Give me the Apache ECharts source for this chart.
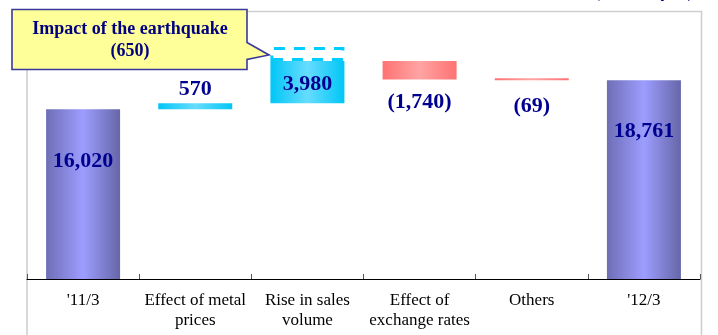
<!DOCTYPE html>
<html>
<head>
<meta charset="utf-8">
<script src="https://cdn.jsdelivr.net/npm/echarts@6/dist/echarts.min.js"></script>
<style>
  html, body { margin: 0; padding: 0; background: #ffffff; }
  #chart { width: 718px; height: 335px; }
</style>
</head>
<body>
<div id="chart"></div>
<script>
// Operating bridge, '11/3 -> '12/3 (Million yen)
const categories = ["'11/3", "Effect of metal\nprices", "Rise in sales\nvolume", "Effect of\nexchange rates", "Others", "'12/3"];
const startValue = 16020;
const changes = [570, 3980, -1740, -69];
const endValue = 18761;
const earthquakeImpact = 650;
const valueLabels = ["16,020", "570", "3,980", "(1,740)", "(69)", "18,761"];

// Waterfall: invisible offsets + visible step heights
const steps = [startValue, ...changes, endValue];
const offsets = [];
const heights = [];
let running = 0;
steps.forEach((v, i) => {
  if (i === 0 || i === steps.length - 1) {
    offsets.push(0);
    heights.push(Math.abs(v));
    running = v;
  } else {
    const next = running + v;
    offsets.push(Math.min(running, next));
    heights.push(Math.abs(v));
    running = next;
  }
});

const FONT = "'Liberation Serif', 'Times New Roman', serif";
const NAVY = '#000090';

function hGrad(edgeL, mid, edgeR) {
  return new echarts.graphic.LinearGradient(0, 0, 1, 0, [
    { offset: 0, color: edgeL },
    { offset: 0.5, color: mid },
    { offset: 1, color: edgeR }
  ]);
}
const blueFill = hGrad('#6e6eb6', '#9d9dff', '#6666a8');
const cyanFill = hGrad('#00c6f6', '#66dcff', '#00c6f6');
const pinkFill = hGrad('#ff7272', '#ffa4a4', '#ff7272');
const fills = [blueFill, cyanFill, cyanFill, pinkFill, pinkFill, blueFill];

// per-bar label placement
const labelPos = [
  { position: 'insideTop', distance: 41 },
  { position: 'top', distance: 3 },
  { position: 'insideTop', distance: 12 },
  { position: 'bottom', distance: 12 },
  { position: 'bottom', distance: 15 },
  { position: 'insideTop', distance: 40 }
];

const visibleData = heights.map((h, i) => ({
  value: h,
  itemStyle: { color: fills[i] },
  label: {
    show: true,
    position: labelPos[i].position,
    distance: labelPos[i].distance,
    formatter: valueLabels[i],
    fontFamily: FONT,
    fontWeight: 'bold',
    fontSize: 22,
    color: NAVY
  }
}));

const quakeData = categories.map((c, i) => (i === 2 ? earthquakeImpact : '-'));

const chart = echarts.init(document.getElementById('chart'), null, { renderer: 'canvas' });

chart.setOption({
  animation: false,
  backgroundColor: '#ffffff',
  grid: { left: 27, right: 18, top: 11, bottom: 56, containLabel: false },
  xAxis: {
    type: 'category',
    data: categories,
    boundaryGap: true,
    axisLine: { show: true, lineStyle: { color: '#000000', width: 1.2 } },
    axisTick: { show: true, inside: true, length: 5, lineStyle: { color: '#555555', width: 1 } },
    axisLabel: {
      interval: 0,
      margin: 12,
      fontFamily: FONT,
      fontSize: 17,
      lineHeight: 20,
      color: '#000000'
    },
    splitLine: { show: false }
  },
  yAxis: {
    type: 'value',
    min: 0,
    max: 25300,
    show: false,
    splitLine: { show: false }
  },
  series: [
    {
      name: 'offset',
      type: 'bar',
      stack: 'bridge',
      barWidth: 74,
      silent: true,
      itemStyle: { color: 'rgba(0,0,0,0)' },
      data: offsets
    },
    {
      name: 'step',
      type: 'bar',
      stack: 'bridge',
      barWidth: 74,
      barMinHeight: 2,
      data: visibleData
    },
    {
      name: 'earthquake',
      type: 'bar',
      stack: 'bridge',
      barWidth: 74,
      barMinHeight: 14,
      itemStyle: {
        color: 'rgba(255,255,255,0)',
        borderColor: '#00ccff',
        borderWidth: 3,
        borderType: [11, 9]
      },
      data: quakeData
    }
  ],
  graphic: [
    // plot frame, open at the bottom
    {
      type: 'polyline',
      silent: true,
      z: -1,
      shape: { points: [[27, 336], [27, 11.5], [701.5, 11.5], [701.5, 336]] },
      style: { stroke: '#cfcfcf', lineWidth: 1.6, fill: null }
    },
    // unit caption along the top edge
    {
      type: 'text',
      silent: true,
      left: 594,
      top: -17,
      style: {
        text: '(Million yen)',
        font: "bold 18px 'Liberation Serif', serif",
        fill: '#000090'
      }
    },
    // callout box with pointer toward the dashed segment
    {
      type: 'polygon',
      silent: true,
      z: 100,
      shape: {
        points: [[12, 9.5], [247, 9.5], [247, 42.5], [269, 55], [247, 59.5], [247, 69.5], [12, 69.5]]
      },
      style: { fill: '#ffff99', stroke: '#3a3a9a', lineWidth: 1.6 }
    },
    {
      type: 'text',
      silent: true,
      z: 101,
      x: 130,
      y: 29.5,
      style: {
        text: 'Impact of the earthquake',
        font: "bold 18px 'Liberation Serif', serif",
        fill: '#000080',
        align: 'center',
        verticalAlign: 'middle'
      }
    },
    {
      type: 'text',
      silent: true,
      z: 101,
      x: 130,
      y: 51.5,
      style: {
        text: '(' + earthquakeImpact + ')',
        font: "bold 18px 'Liberation Serif', serif",
        fill: '#000080',
        align: 'center',
        verticalAlign: 'middle'
      }
    }
  ]
});
</script>
</body>
</html>
